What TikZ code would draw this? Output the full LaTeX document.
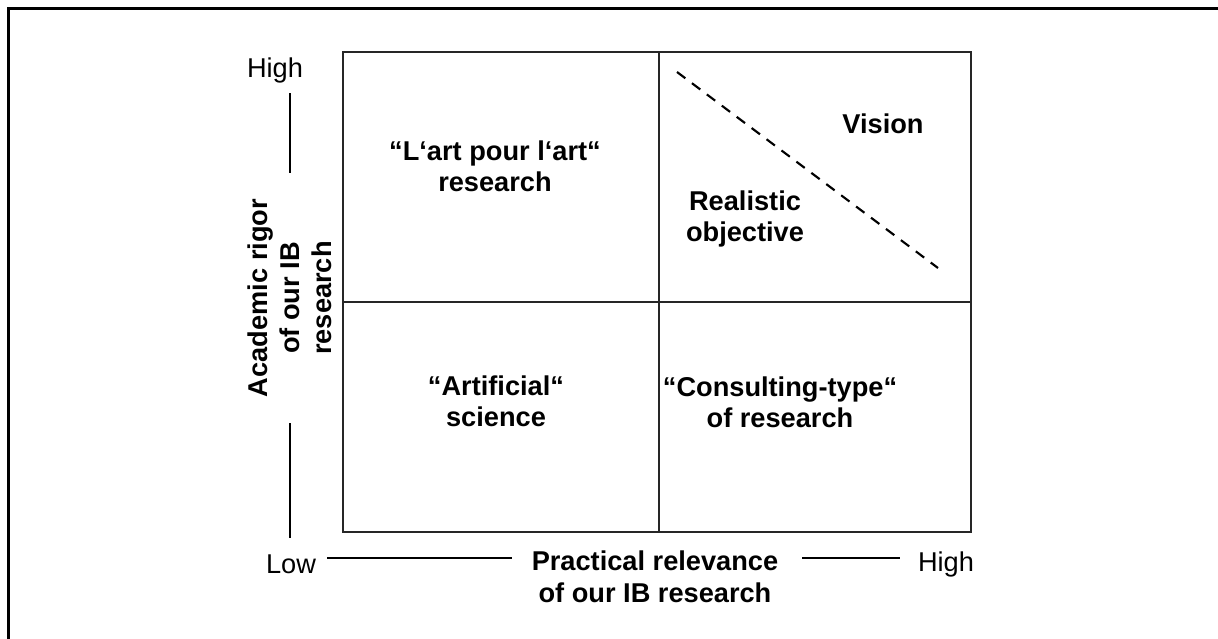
\documentclass[tikz,border=0pt]{standalone}
\usepackage{fontspec}
\setmainfont{Liberation Sans}
\begin{document}
\begin{tikzpicture}[x=0.75pt,y=-0.75pt,
  every node/.style={inner sep=0pt, outer sep=0pt},
  cell/.style={font=\fontsize{20.4pt}{23.5pt}\selectfont\bfseries, align=center},
  tick/.style={font=\fontsize{20.4pt}{24pt}\selectfont},
  axisname/.style={font=\fontsize{20.4pt}{24pt}\selectfont\bfseries, align=center},
  grid/.style={draw=black!85, line width=0.8pt},
  axisline/.style={draw=black, line width=0.8pt},
  frame/.style={draw=black, line width=2.3pt},
  divider/.style={draw=black, line width=1.6pt, dash pattern=on 7.8pt off 6.2pt}]
\useasboundingbox (0,0) rectangle (1218,639);
\clip (0,0) rectangle (1218,639);

% page frame (only its top and left edges fall inside the page)
\draw[frame] (1230,8.5) -- (8.5,8.5) -- (8.5,650);

% the 2x2 matrix
\coordinate (tl) at (343,52);
\coordinate (br) at (971,532);
\coordinate (tm) at (659,52);
\coordinate (bm) at (659,532);
\coordinate (ml) at (343,302);
\coordinate (mr) at (971,302);
\draw[grid] (tl) rectangle (br);
\draw[grid] (tm) -- (bm);
\draw[grid] (ml) -- (mr);

% quadrant labels
\node[cell] (lart) at (495,166) {“L‘art pour l‘art“\\research};
\node[cell] (artif) at (496,401) {“Artificial“\\science};
\node[cell] (consult) at (780,402) {“Consulting-type“\\of research};
\node[cell] (vision) at (883,124) {Vision};
\node[cell] (realistic) at (745,219) {Realistic\\objective};

% boundary between realistic objective and vision
\coordinate (d1) at (677,72);
\coordinate (d2) at (938,268);
\draw[divider] (d1) -- (d2);

% vertical axis
\node[tick] (yhigh) at (275,70) {High};
\node[axisname, rotate=90] (yname) at (290,298) {Academic rigor\\of our IB\\research};
\coordinate (ya1) at (290,93);
\coordinate (ya2) at (290,173);
\coordinate (yb1) at (290,423);
\coordinate (yb2) at (290,538);
\draw[axisline] (ya1) -- (ya2);
\draw[axisline] (yb1) -- (yb2);

% horizontal axis
\node[tick] (xlow) at (291,564) {Low};
\node[tick] (xhigh) at (946,564) {High};
\node[axisname] (xname) at (655,577) {Practical relevance\\of our IB research};
\coordinate (xa1) at (327,558);
\coordinate (xa2) at (512,558);
\coordinate (xb1) at (802,558);
\coordinate (xb2) at (900,558);
\draw[axisline] (xa1) -- (xa2);
\draw[axisline] (xb1) -- (xb2);
\end{tikzpicture}
\end{document}
